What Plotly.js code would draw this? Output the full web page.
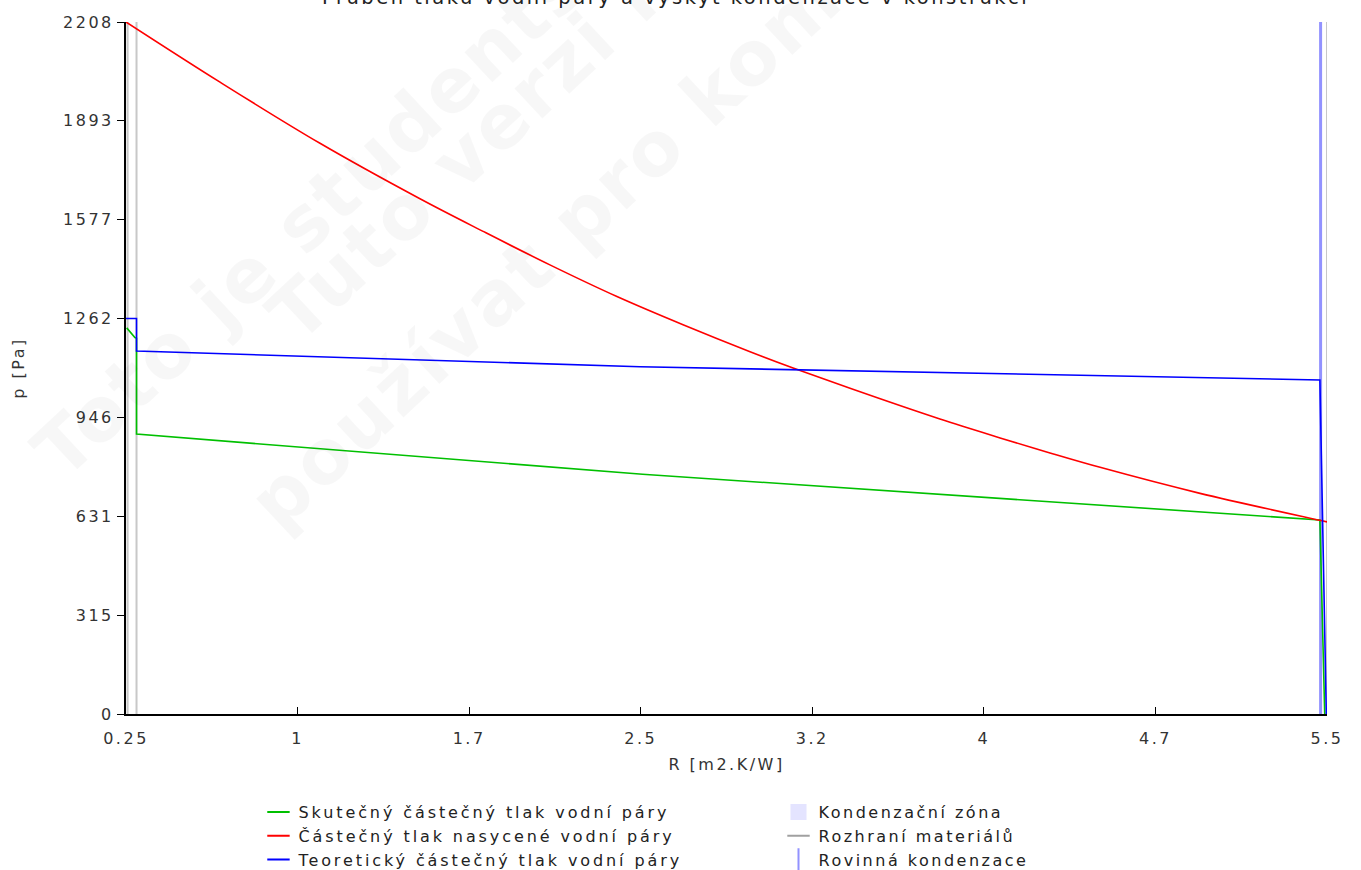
<!DOCTYPE html>
<html>
<head>
<meta charset="utf-8">
<script src="https://cdn.plot.ly/plotly-3.0.1.min.js"></script>
<style>
  html, body { margin: 0; padding: 0; background: #fff; }
  #chart { width: 1361px; height: 870px; }
  svg text { letter-spacing: 2.5px; }
  svg text.legendtext { letter-spacing: 2.9px; }
</style>
</head>
<body>
<div id="chart"></div>
<script>
// ---- data ----
const chartTitle = "Průběh tlaku vodní páry a výskyt kondenzace v konstrukci";
const xTitle = "R [m2.K/W]";
const yTitle = "p [Pa]";

const xTickVals = [0.25, 1.0, 1.75, 2.5, 3.25, 4.0, 4.75, 5.5];
const xTickText = ["0.25", "1", "1.7", "2.5", "3.2", "4", "4.7", "5.5"];
const yTickVals = [0, 315.43, 630.86, 946.29, 1261.71, 1577.14, 1892.57, 2208];
const yTickText = ["0", "315", "631", "946", "1262", "1577", "1893", "2208"];

// Skutečný částečný tlak vodní páry (green)
const rActual = [0.253, 0.289, 0.296, 0.296, 2.508, 5.469, 5.490];
const pActual = [1232, 1201, 1199, 893, 765, 619, 0];

// Částečný tlak nasycené vodní páry (red)
const rSat = [0.25, 0.661, 1.098, 1.535, 1.811, 2.103, 2.396, 2.685, 2.978, 3.166, 3.415, 3.808, 4.071, 4.289, 4.508, 4.945, 5.469, 5.5];
const pSat = [2208, 2016, 1821, 1644, 1540, 1433, 1332, 1242, 1156, 1104, 1039, 941, 881, 833, 787, 704, 618, 613];

// Teoretický částečný tlak vodní páry (blue)
const rTheor = [0.25, 0.296, 0.296, 2.497, 5.469, 5.497];
const pTheor = [1262, 1262, 1158, 1108, 1066, 0];

// Rozhraní materiálů (material interfaces)
const rInterfaces = [0.257, 0.296, 5.5];
// Rovinná kondenzace (plane condensation)
const rPlaneCond = [5.472];
// Kondenzační zóna (none drawn in the plot)
const rCondZone = [];

const pMax = 2208;

const cGreen = '#00c000', cRed = '#ff0000', cBlue = '#0000ff';
const cIface = '#c8c8c8', cPlane = 'rgba(110,110,255,0.75)', cZone = '#e4e4ff';

// ---- build traces ----
function verticalLines(rs) {
  const x = [], y = [];
  rs.forEach(r => { x.push(r, r, null); y.push(0, pMax, null); });
  return {x, y};
}
const ifc = verticalLines(rInterfaces);
const pc = verticalLines(rPlaneCond);

function legendEntry(name, legend, rank, marker) {
  return { x: [null], y: [null], mode: 'markers', name, legend, legendrank: rank, marker };
}
const lineMarker = c => ({symbol: 'line-ew', size: 20, line: {color: c, width: 2}});

const traces = [
  { x: ifc.x, y: ifc.y, mode: 'lines', name: 'Rozhraní materiálů', showlegend: false,
    line: {color: cIface, width: 2} },
  { x: pc.x, y: pc.y, mode: 'lines', name: 'Rovinná kondenzace', showlegend: false,
    line: {color: cPlane, width: 3} },
  { x: rActual, y: pActual, mode: 'lines', name: 'Skutečný částečný tlak vodní páry', showlegend: false,
    line: {color: cGreen, width: 1.6} },
  { x: rSat, y: pSat, mode: 'lines', name: 'Částečný tlak nasycené vodní páry', showlegend: false,
    line: {color: cRed, width: 1.6, shape: 'spline', smoothing: 1} },
  { x: rTheor, y: pTheor, mode: 'lines', name: 'Teoretický částečný tlak vodní páry', showlegend: false,
    line: {color: cBlue, width: 1.6} },
  // legend entries
  legendEntry('Skutečný částečný tlak vodní páry', 'legend', 1, lineMarker(cGreen)),
  legendEntry('Částečný tlak nasycené vodní páry', 'legend', 2, lineMarker(cRed)),
  legendEntry('Teoretický částečný tlak vodní páry', 'legend', 3, lineMarker(cBlue)),
  legendEntry('Kondenzační zóna', 'legend2', 1, {symbol: 'square', size: 18, color: cZone}),
  legendEntry('Rozhraní materiálů', 'legend2', 2, lineMarker('#a0a0a0')),
  legendEntry('Rovinná kondenzace', 'legend2', 3, {symbol: 'line-ns', size: 20, line: {color: cPlane, width: 2}})
];

const wmFont = {family: 'DejaVu Sans', size: 75, color: 'rgba(0,0,0,0.033)', weight: 'bold'};
const watermark = [
  {text: 'Toto je studentská verze', x: 0.268, y: 0.905},
  {text: 'Tuto verzi nelze', x: 0.344, y: 0.9075},
  {text: 'používat pro komerční účely', x: 0.498, y: 0.912}
].map(w => ({
  text: w.text, xref: 'paper', yref: 'paper', x: w.x, y: w.y,
  xanchor: 'center', yanchor: 'middle', textangle: -43, showarrow: false, font: wmFont
}));

const titleAnn = {
  text: chartTitle, xref: 'paper', yref: 'paper', x: 0.4575, y: 1.0347,
  xanchor: 'center', yanchor: 'middle', showarrow: false,
  font: {family: 'DejaVu Sans', size: 19.5, color: '#222'}
};

const axisFont = {family: 'DejaVu Sans', size: 16, color: '#333'};
const legendFont = {family: 'DejaVu Sans', size: 16, color: '#222'};

const layout = {
  width: 1361, height: 870,
  paper_bgcolor: '#fff', plot_bgcolor: '#fff',
  margin: {l: 126, r: 34, t: 22, b: 156, autoexpand: false},
  xaxis: {
    range: [0.25, 5.5], tickvals: xTickVals, ticktext: xTickText,
    showgrid: false, zeroline: false, showline: true, linecolor: '#000', linewidth: 2,
    ticks: 'inside', ticklen: 7, tickcolor: '#000', tickwidth: 1,
    tickfont: axisFont, ticklabelstandoff: 9,
    title: {text: xTitle, font: axisFont, standoff: 12}
  },
  yaxis: {
    range: [0, pMax], tickvals: yTickVals, ticktext: yTickText,
    showgrid: false, zeroline: false, showline: true, linecolor: '#000', linewidth: 2,
    ticks: 'outside', ticklen: 7, tickcolor: '#000', tickwidth: 1,
    tickfont: axisFont,
    title: {text: yTitle, font: axisFont, standoff: 34}
  },
  legend: {x: 0.1103, xanchor: 'left', y: -0.1171, yanchor: 'top',
           font: legendFont, bgcolor: 'rgba(0,0,0,0)', itemwidth: 30, tracegroupgap: 0},
  legend2: {x: 0.5433, xanchor: 'left', y: -0.1171, yanchor: 'top',
           font: legendFont, bgcolor: 'rgba(0,0,0,0)', itemwidth: 30, tracegroupgap: 0},
  annotations: watermark.concat([titleAnn]),
  showlegend: true,
  hovermode: false
};

Plotly.newPlot('chart', traces, layout, {displayModeBar: false, staticPlot: true});
</script>
</body>
</html>
